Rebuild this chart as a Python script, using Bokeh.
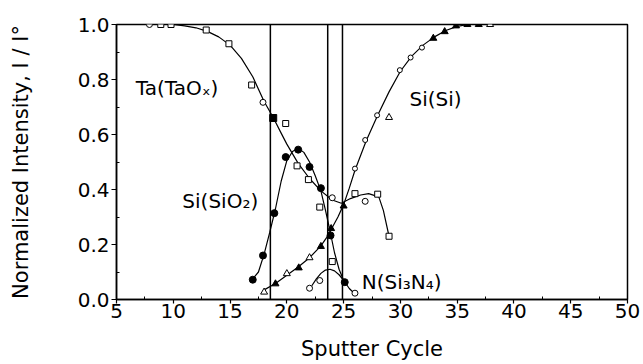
from bokeh.plotting import figure
from bokeh.models import FixedTicker, NumeralTickFormatter, Label, Range1d
from bokeh.embed import file_html
from bokeh.resources import INLINE

# ---------------- data ----------------
# Ta(TaOx) measured points
ta_sq_x = [8.9, 9.8, 12.9, 14.9, 16.9, 19.9, 20.9, 21.9, 22.9, 26.0, 28.0, 29.0]
ta_sq_y = [1.0, 1.0, 0.98, 0.93, 0.78, 0.64, 0.486, 0.436, 0.336, 0.385, 0.383, 0.23]
ta_ci_x = [7.9, 17.9, 24.0, 26.9]
ta_ci_y = [1.0, 0.717, 0.37, 0.357]
ta_fill_x = [18.8]
ta_fill_y = [0.66]
# Ta smooth curve
ta_curve_x = [7.8, 10, 11, 12, 13, 14, 15, 16, 17, 18, 18.8, 19.5, 20, 21, 22, 23, 24, 24.8,
              25.6, 26.5, 27.2, 28.1, 28.5, 29.0]
ta_curve_y = [1.0, 1.0, 0.995, 0.988, 0.975, 0.955, 0.925, 0.877, 0.81, 0.72, 0.662, 0.605,
              0.565, 0.495, 0.44, 0.395, 0.362, 0.35, 0.367, 0.38, 0.385, 0.373, 0.324, 0.23]

# Si(SiO2) measured points and curve
sio2_x = [17.0, 17.9, 18.9, 19.9, 21.0, 22.0, 23.0, 23.85, 25.1]
sio2_y = [0.072, 0.16, 0.314, 0.518, 0.545, 0.482, 0.405, 0.233, 0.063]
sio2_curve_x = [16.9, 17.5, 18.0, 18.5, 19.0, 19.5, 20.0, 20.5, 21.0, 21.5, 22.0, 22.5, 23.0,
                23.4, 23.8, 24.2, 24.6, 25.0, 25.5, 26.0]
sio2_curve_y = [0.07, 0.1, 0.165, 0.245, 0.33, 0.43, 0.505, 0.538, 0.55, 0.535, 0.5, 0.45,
                0.395, 0.325, 0.25, 0.17, 0.11, 0.07, 0.04, 0.02]

# Si(Si) measured points and curve
si_open_tri_x = [18.0, 20.0, 22.0, 29.0, 37.9]
si_open_tri_y = [0.027, 0.094, 0.152, 0.662, 1.0]
si_fill_tri_x = [19.0, 21.05, 23.0, 23.9, 25.0, 32.9, 33.9, 34.9, 35.9, 36.9]
si_fill_tri_y = [0.057, 0.115, 0.193, 0.258, 0.34, 0.95, 0.974, 0.995, 1.0, 1.0]
si_open_ci_x = [26.0, 26.9, 27.95, 29.95, 30.9, 31.9]
si_open_ci_y = [0.476, 0.58, 0.67, 0.834, 0.88, 0.916]
si_curve_x = [18.0, 19.0, 20.0, 21.0, 22.0, 23.0, 23.5, 24.0, 24.5, 25.0, 25.5, 26.0, 27.0,
              28.0, 29.0, 30.0, 31.0, 32.0, 33.0, 34.0, 35.0, 36.0, 38.0]
si_curve_y = [0.035, 0.058, 0.088, 0.118, 0.152, 0.195, 0.225, 0.262, 0.3, 0.345, 0.405, 0.47,
              0.578, 0.67, 0.755, 0.83, 0.885, 0.925, 0.955, 0.978, 0.993, 1.0, 1.0]

# N(Si3N4) measured points and curve
n_ci_x = [22.0, 22.9, 26.0]
n_ci_y = [0.041, 0.069, 0.023]
n_sq_x = [24.0]
n_sq_y = [0.138]
n_curve_x = [22.2, 22.6, 23.0, 23.4, 23.8, 24.2, 24.6, 25.0]
n_curve_y = [0.05, 0.075, 0.095, 0.107, 0.11, 0.104, 0.09, 0.07]

# interface boundaries (sputter cycle)
boundaries = [18.55, 23.6, 24.9]

x_ticks = [5, 10, 15, 20, 25, 30, 35, 40, 45, 50]
x_minor = [7.5, 12.5, 17.5, 22.5, 27.5, 32.5, 37.5, 42.5, 47.5]
y_ticks = [0.0, 0.2, 0.4, 0.6, 0.8, 1.0]
y_minor = [0.1, 0.3, 0.5, 0.7, 0.9]

# ---------------- figure ----------------
FONT = "DejaVu Sans"
p = figure(width=643, height=364, output_backend="svg", toolbar_location=None,
           x_range=Range1d(5, 50), y_range=Range1d(0, 1.0),
           min_border_left=116, min_border_right=16, min_border_top=24, min_border_bottom=65,
           background_fill_color="white", border_fill_color="white")
p.grid.visible = False
p.outline_line_color = "black"
p.outline_line_width = 1.5

for ax in (p.xaxis[0], p.yaxis[0]):
    ax.axis_line_color = "black"
    ax.axis_line_width = 1.5
    ax.major_tick_line_color = "black"
    ax.minor_tick_line_color = "black"
    ax.major_tick_line_width = 1.2
    ax.minor_tick_line_width = 1
    ax.major_label_text_font = FONT
    ax.major_label_text_font_size = "20px"
    ax.major_label_text_color = "black"
    ax.axis_label_text_font = FONT
    ax.axis_label_text_font_size = "21px"
    ax.axis_label_text_font_style = "normal"
    ax.axis_label_text_color = "black"
    ax.axis_label_text_line_height = 1.0

p.xaxis.ticker = FixedTicker(ticks=x_ticks, minor_ticks=x_minor)
p.yaxis.ticker = FixedTicker(ticks=y_ticks, minor_ticks=y_minor)
p.yaxis.formatter = NumeralTickFormatter(format="0.0")
p.xaxis.major_tick_out = 4
p.xaxis.major_tick_in = 0
p.xaxis.minor_tick_out = 0
p.xaxis.minor_tick_in = 3
p.yaxis.major_tick_out = 5
p.yaxis.major_tick_in = 0
p.yaxis.minor_tick_out = 0
p.yaxis.minor_tick_in = 3
p.xaxis.major_label_standoff = 0
p.yaxis.major_label_standoff = 2
p.xaxis.axis_label = "Sputter Cycle"
p.yaxis.axis_label = "Normalized Intensity, I / I\u00b0"
p.xaxis.axis_label_standoff = 16
p.yaxis.axis_label_standoff = 42

# vertical interface lines
p.segment(x0=boundaries, y0=[0] * len(boundaries), x1=boundaries, y1=[1.0] * len(boundaries),
          line_color="black", line_width=1.5)

# curves
for cx, cy in ((ta_curve_x, ta_curve_y), (sio2_curve_x, sio2_curve_y),
               (si_curve_x, si_curve_y), (n_curve_x, n_curve_y)):
    p.line(cx, cy, line_color="black", line_width=1.2)

MS = 6
# Ta
p.scatter(ta_sq_x, ta_sq_y, marker="square", size=MS, fill_color="white", line_color="black", line_width=1)
p.scatter(ta_ci_x, ta_ci_y, marker="circle", size=MS, fill_color="white", line_color="black", line_width=1)
p.scatter(ta_fill_x, ta_fill_y, marker="square", size=MS + 1, fill_color="black", line_color="black")
# Si(SiO2)
p.scatter(sio2_x, sio2_y, marker="circle", size=MS + 1, fill_color="black", line_color="black")
# Si(Si)
p.scatter(si_open_tri_x, si_open_tri_y, marker="triangle", size=MS + 1, fill_color="white", line_color="black", line_width=1)
p.scatter(si_fill_tri_x, si_fill_tri_y, marker="triangle", size=MS + 1, fill_color="black", line_color="black")
p.scatter(si_open_ci_x, si_open_ci_y, marker="circle", size=MS - 1, fill_color="white", line_color="black", line_width=1)
# N(Si3N4)
p.scatter(n_ci_x, n_ci_y, marker="circle", size=MS, fill_color="white", line_color="black", line_width=1)
p.scatter(n_sq_x, n_sq_y, marker="square", size=MS, fill_color="white", line_color="black", line_width=1)

# annotations
def add_label(x, y, t):
    p.add_layout(Label(x=x, y=y, text=t, text_font=FONT, text_font_size="20px",
                       text_color="black", text_baseline="alphabetic"))

add_label(6.7, 0.77, "Ta(TaO\u2093)")
add_label(10.8, 0.36, "Si(SiO\u2082)")
add_label(30.8, 0.73, "Si(Si)")
add_label(26.6, 0.063, "N(Si\u2083N\u2084)")

open("out.html", "w").write(file_html(p, INLINE))
